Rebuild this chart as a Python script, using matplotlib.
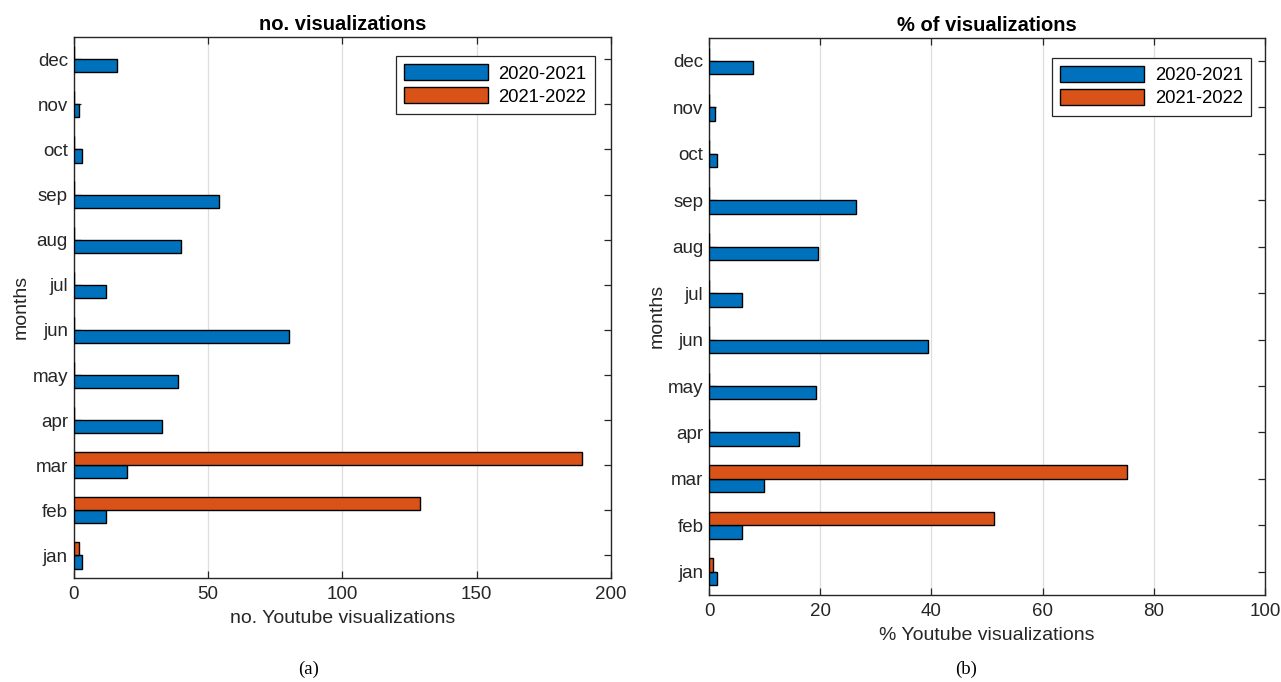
import numpy as np
import matplotlib
matplotlib.use('Agg')
import matplotlib.pyplot as plt

# Meses y visualizaciones por temporada
months = ['jan', 'feb', 'mar', 'apr', 'may', 'jun', 'jul', 'aug', 'sep', 'oct', 'nov', 'dec']
seasons = ['2020-2021', '2021-2022']

views_2021 = [3, 12, 20, 33, 39, 80, 12, 40, 54, 3, 2, 16]
views_2022 = [2, 129, 189, 0, 0, 0, 0, 0, 0, 0, 0, 0]

pct_2021 = [1.5, 6.0, 9.9, 16.2, 19.2, 39.3, 6.0, 19.6, 26.5, 1.5, 1.0, 7.9]
pct_2022 = [0.8, 51.3, 75.1, 0, 0, 0, 0, 0, 0, 0, 0, 0]

# Colores por defecto de MATLAB
c_blue = '#0072BD'
c_orange = '#D95319'
c_axis = '#262626'

plt.rcParams['font.family'] = ['Liberation Sans', 'DejaVu Sans']
plt.rcParams['font.size'] = 13

fig = plt.figure(figsize=(12.81, 6.82), dpi=100)

ax1 = fig.add_axes([0.0574, 0.1525, 0.4197, 0.7937])
ax2 = fig.add_axes([0.5535, 0.1276, 0.434, 0.817])

y = np.arange(1, len(months) + 1)
h = 0.29


def draw_panel(ax, a, b, xmax, xticks, title, xlabel, legend_anchor):
    ax.barh(y - h / 2, a, height=h, color=c_blue, edgecolor='black', linewidth=1, label=seasons[0], zorder=3)
    ax.barh(y + h / 2, b, height=h, color=c_orange, edgecolor='black', linewidth=1, label=seasons[1], zorder=3)

    ax.set_xlim(0, xmax)
    ax.set_ylim(0.5, 12.5)
    ax.set_xticks(xticks)
    ax.set_yticks(y)
    ax.set_yticklabels(months)

    ax.grid(axis='x', color='#dedede', linewidth=0.9, zorder=0)
    ax.set_axisbelow(True)

    for s in ax.spines.values():
        s.set_color(c_axis)
        s.set_linewidth(1.0)
    ax.tick_params(direction='in', length=5, width=0.9, colors=c_axis,
                   top=True, right=True, labelsize=13.5)
    ax.tick_params(axis='y', pad=4)
    ax.tick_params(axis='x', pad=6)

    ax.set_title(title, fontsize=14.5, fontweight='bold', pad=5)
    ax.set_xlabel(xlabel, fontsize=14, color=c_axis, labelpad=5)
    ax.set_ylabel('months', fontsize=14, color=c_axis, labelpad=2)

    leg = ax.legend(loc='upper right', bbox_to_anchor=legend_anchor, fontsize=13.3,
                    handlelength=4.5, handleheight=0.95, handletextpad=0.6,
                    borderpad=0.45, labelspacing=0.25, borderaxespad=0,
                    fancybox=False, framealpha=1, edgecolor=c_axis)
    leg.get_frame().set_linewidth(0.9)


draw_panel(ax1, views_2021, views_2022, 200, [0, 50, 100, 150, 200],
           'no. visualizations', 'no. Youtube visualizations', (0.970, 0.964))
draw_panel(ax2, pct_2021, pct_2022, 100, [0, 20, 40, 60, 80, 100],
           '% of visualizations', '% Youtube visualizations', (0.975, 0.964))

# Subtítulos de cada panel
fig.text(309 / 1281, 1 - 669 / 682, '(a)', ha='center', va='center',
         fontsize=13.5, family=['Liberation Serif', 'DejaVu Serif'])
fig.text(966 / 1281, 1 - 669 / 682, '(b)', ha='center', va='center',
         fontsize=13.5, family=['Liberation Serif', 'DejaVu Serif'])

fig.savefig('out.png', dpi=100, facecolor='white')
